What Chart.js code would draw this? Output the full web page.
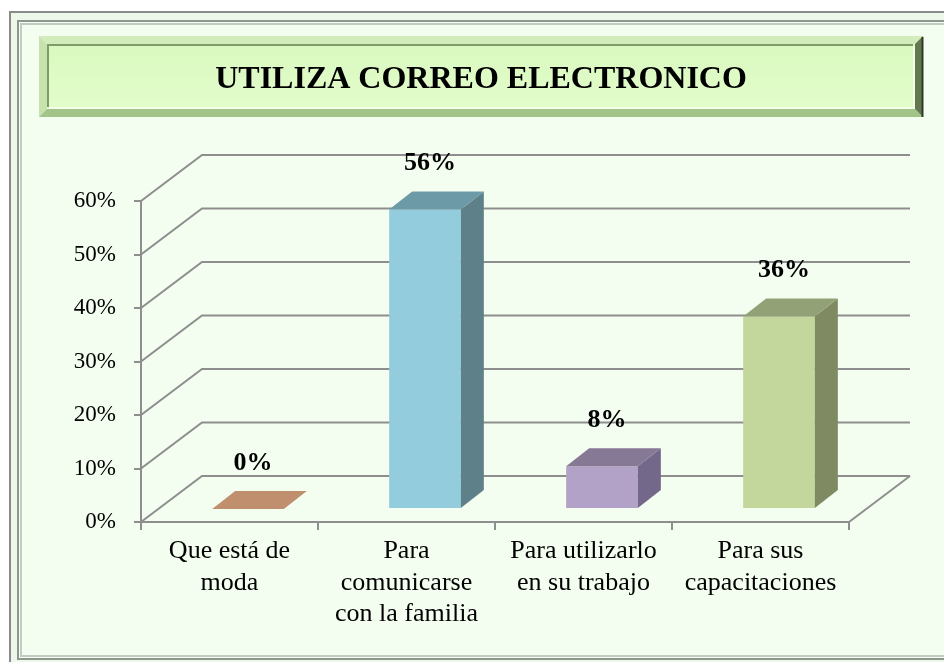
<!DOCTYPE html>
<html>
<head>
<meta charset="utf-8">
<script src="https://cdn.jsdelivr.net/npm/chart.js@4.4.1/dist/chart.umd.min.js"></script>
<style>
  html, body { margin: 0; padding: 0; background: #fff; }
  #graficoCorreo { display: block; }
</style>
</head>
<body>
<canvas id="graficoCorreo" width="944" height="662"></canvas>
<script>
const titulo = 'UTILIZA CORREO ELECTRONICO';
const categorias = [
  ['Que está de', 'moda'],
  ['Para', 'comunicarse', 'con la familia'],
  ['Para utilizarlo', 'en su trabajo'],
  ['Para sus', 'capacitaciones']
];
const porcentajes = [0, 56, 8, 36];
const marcasEje = [0, 10, 20, 30, 40, 50, 60];

// colores de cada barra: frente, tapa y costado
const colorFrente = ['#d6a482', '#93cddd', '#b3a2c7', '#c3d69b'];
const colorTapa = ['#c08f6d', '#6c9aa7', '#867996', '#93a176'];
const colorLado = ['#a0775a', '#5e8189', '#73678a', '#7f8a62'];

const GRIS = '#8e8e8e';
const FUENTE = '"Liberation Serif", "Times New Roman", serif';
// profundidad del fondo y de las barras
const FONDO_DX = 61, FONDO_DY = -46;
const BARRA_TX = 18.5, BARRA_TY = -13;
const BARRA_DX = 23, BARRA_DY = -18;

function dibujarMarco(ctx) {
  ctx.save();
  ctx.fillStyle = '#ffffff';
  ctx.fillRect(0, 0, 944, 662);
  ctx.fillStyle = '#eef8ea';
  ctx.fillRect(9, 11, 960, 660);
  ctx.strokeStyle = '#8a8a8a';
  ctx.lineWidth = 2;
  ctx.strokeRect(10, 12, 960, 660);
  ctx.fillStyle = '#f4fef0';
  ctx.fillRect(18, 21, 960, 638);
  ctx.lineWidth = 2;
  ctx.strokeStyle = '#8f978f';
  ctx.strokeRect(18, 21, 960, 638);
  ctx.strokeStyle = '#c3ccc3';
  ctx.strokeRect(21, 24, 960, 632);
  ctx.restore();
}

function dibujarTitulo(ctx) {
  const x0 = 39, y0 = 36, x1 = 923, y1 = 117, b = 8;
  ctx.save();
  const trap = (pts, color) => {
    ctx.beginPath();
    ctx.moveTo(pts[0][0], pts[0][1]);
    pts.slice(1).forEach(p => ctx.lineTo(p[0], p[1]));
    ctx.closePath();
    ctx.fillStyle = color;
    ctx.fill();
  };
  trap([[x0, y0], [x1, y0], [x1 - b, y0 + b], [x0 + b, y0 + b]], '#d2ecbc');
  trap([[x0, y0], [x0 + b, y0 + b], [x0 + b, y1 - b], [x0, y1]], '#c6e3ae');
  trap([[x0, y1], [x0 + b, y1 - b], [x1 - b, y1 - b], [x1, y1]], '#a3c488');
  trap([[x1, y0], [x1, y1], [x1 - b, y1 - b], [x1 - b, y0 + b]], '#62794f');
  const g = ctx.createLinearGradient(0, y0 + b, 0, y1 - b);
  g.addColorStop(0, '#d9f9bf');
  g.addColorStop(1, '#e3fccb');
  ctx.fillStyle = g;
  ctx.fillRect(x0 + b, y0 + b, x1 - x0 - 2 * b, y1 - y0 - 2 * b);
  ctx.lineWidth = 2;
  ctx.strokeStyle = '#7f9c67';
  ctx.beginPath();
  ctx.moveTo(x0 + b + 1, y1 - b - 2);
  ctx.lineTo(x0 + b + 1, y0 + b + 1);
  ctx.lineTo(x1 - b - 2, y0 + b + 1);
  ctx.stroke();
  ctx.strokeStyle = '#f3fdea';
  ctx.beginPath();
  ctx.moveTo(x0 + b + 2, y1 - b - 1);
  ctx.lineTo(x1 - b - 1, y1 - b - 1);
  ctx.lineTo(x1 - b - 1, y0 + b + 2);
  ctx.stroke();
  ctx.strokeStyle = '#2f3b27';
  ctx.beginPath();
  ctx.moveTo(x1 - 0.5, y0 + 1);
  ctx.lineTo(x1 - 0.5, y1);
  ctx.stroke();

  ctx.fillStyle = '#000';
  ctx.font = 'bold 32px ' + FUENTE;
  ctx.textAlign = 'center';
  ctx.textBaseline = 'alphabetic';
  ctx.fillText(titulo, (x0 + x1) / 2, 88);
  ctx.restore();
}

const grafico3D = {
  id: 'grafico3D',
  beforeDraw(chart) {
    dibujarMarco(chart.ctx);
    dibujarTitulo(chart.ctx);
  },
  beforeDatasetsDraw(chart) {
    const { ctx, chartArea, scales } = chart;
    const y = scales.y;
    ctx.save();
    ctx.strokeStyle = GRIS;
    ctx.lineWidth = 2;
    y.ticks.forEach(t => {
      const py = y.getPixelForValue(t.value);
      ctx.beginPath();
      ctx.moveTo(chartArea.left, py);
      ctx.lineTo(chartArea.left + FONDO_DX, py + FONDO_DY);
      ctx.lineTo(chartArea.right + FONDO_DX, py + FONDO_DY);
      ctx.stroke();
    });
    const base = y.getPixelForValue(0);
    ctx.beginPath();
    ctx.moveTo(chartArea.right, base);
    ctx.lineTo(chartArea.right + FONDO_DX, base + FONDO_DY);
    ctx.stroke();
    ctx.restore();
    ctx.save();
    ctx.translate(BARRA_TX, BARRA_TY);
  },
  afterDatasetsDraw(chart) {
    const { ctx } = chart;
    const meta = chart.getDatasetMeta(0);
    meta.data.forEach((bar, i) => {
      const l = bar.x - bar.width / 2, r = bar.x + bar.width / 2;
      const top = bar.y, bot = bar.base;
      ctx.beginPath();
      ctx.moveTo(r, top);
      ctx.lineTo(r + BARRA_DX, top + BARRA_DY);
      ctx.lineTo(r + BARRA_DX, bot + BARRA_DY);
      ctx.lineTo(r, bot);
      ctx.closePath();
      ctx.fillStyle = colorLado[i];
      ctx.fill();
      ctx.beginPath();
      ctx.moveTo(l, top);
      ctx.lineTo(r, top);
      ctx.lineTo(r + BARRA_DX, top + BARRA_DY);
      ctx.lineTo(l + BARRA_DX, top + BARRA_DY);
      ctx.closePath();
      ctx.fillStyle = colorTapa[i];
      ctx.fill();
    });
    ctx.restore();

    ctx.save();
    ctx.fillStyle = '#000';
    ctx.font = 'bold 26px ' + FUENTE;
    ctx.textAlign = 'center';
    ctx.textBaseline = 'middle';
    meta.data.forEach((bar, i) => {
      ctx.fillText(porcentajes[i] + '%', bar.x + BARRA_TX + 5, bar.y + BARRA_TY - 46);
    });
    ctx.restore();
  }
};

Chart.defaults.font.family = FUENTE;
Chart.defaults.color = '#000';

new Chart(document.getElementById('graficoCorreo'), {
  type: 'bar',
  data: {
    labels: categorias,
    datasets: [{
      data: porcentajes,
      backgroundColor: colorFrente,
      borderWidth: 0,
      barPercentage: 0.405,
      categoryPercentage: 1
    }]
  },
  options: {
    responsive: false,
    animation: false,
    devicePixelRatio: 1,
    layout: { padding: { left: 31, top: 201, right: 95, bottom: 0 } },
    plugins: {
      legend: { display: false },
      title: { display: false },
      tooltip: { enabled: false }
    },
    scales: {
      x: {
        afterFit: s => { s.height = 140; },
        grid: { drawOnChartArea: false, tickLength: 8, color: GRIS, lineWidth: 2 },
        border: { color: GRIS, width: 2 },
        ticks: { font: { size: 26, lineHeight: 1.2 }, padding: 6, maxRotation: 0 }
      },
      y: {
        min: marcasEje[0],
        max: marcasEje[marcasEje.length - 1],
        afterFit: s => { s.width = 110; },
        afterBuildTicks: s => { s.ticks = marcasEje.map(v => ({ value: v })); },
        grid: { drawOnChartArea: false, tickLength: 7, color: GRIS, lineWidth: 2 },
        border: { color: GRIS, width: 2 },
        ticks: { font: { size: 23 }, padding: 18, callback: v => v + '%' }
      }
    }
  },
  plugins: [grafico3D]
});
</script>
</body>
</html>
